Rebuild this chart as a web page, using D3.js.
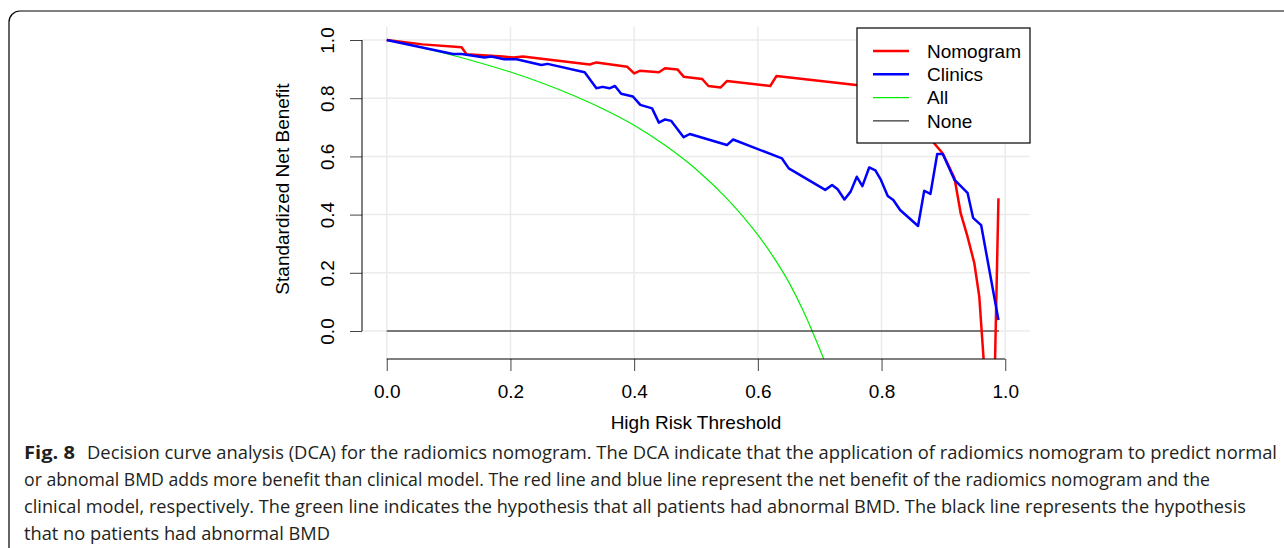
<!DOCTYPE html>
<html>
<head>
<meta charset="utf-8"/>
<title>Decision curve analysis</title>
<script src="https://d3js.org/d3.v7.min.js"></script>
<style>
	body { margin: 0; background: #fff; }
	svg { display: block; }
	.tick text { font-family: "Liberation Sans", Arial, sans-serif; font-size: 19px; fill: #000; }
	.lab { font-family: "Liberation Sans", Arial, sans-serif; font-size: 19px; fill: #000; }
	.cap { font-family: "Open Sans", "Noto Sans", sans-serif; font-size: 18px; fill: #231f20; }
</style>
</head>
<body>
<svg width="1284" height="548"></svg>
<script>
// ---- data ----
var nomogramT = [0, 0.058, 0.121, 0.129, 0.188, 0.205, 0.22, 0.328, 0.339, 0.389, 0.40, 0.409, 0.44, 0.45, 0.47, 0.48,
	0.51, 0.52, 0.54, 0.55, 0.62, 0.63, 0.759, 0.82, 0.86, 0.885, 0.899, 0.918, 0.928, 0.939, 0.95, 0.958, 0.97, 0.982, 0.989];
var nomogramV = [1.0, 0.985, 0.975, 0.951, 0.943, 0.94, 0.943, 0.916, 0.923, 0.908, 0.885, 0.894, 0.889, 0.903, 0.899, 0.874,
	0.866, 0.842, 0.837, 0.859, 0.842, 0.876, 0.845, 0.83, 0.79, 0.645, 0.61, 0.525, 0.404, 0.324, 0.233, 0.118, -0.25, -0.25, 0.456];

var clinicsT = [0, 0.107, 0.121, 0.158, 0.169, 0.19, 0.21, 0.25, 0.26, 0.32, 0.339, 0.349, 0.36, 0.369, 0.379, 0.398, 0.41,
	0.429, 0.44, 0.45, 0.46, 0.48, 0.49, 0.55, 0.56, 0.639, 0.65, 0.709, 0.72, 0.729, 0.74, 0.75, 0.76, 0.769, 0.78, 0.79,
	0.799, 0.81, 0.819, 0.83, 0.859, 0.869, 0.879, 0.89, 0.899, 0.918, 0.939, 0.948, 0.961, 0.989];
var clinicsV = [1.0, 0.952, 0.952, 0.94, 0.943, 0.934, 0.934, 0.914, 0.918, 0.889, 0.834, 0.839, 0.834, 0.842, 0.815, 0.806, 0.777,
	0.765, 0.716, 0.727, 0.722, 0.666, 0.677, 0.639, 0.658, 0.593, 0.559, 0.485, 0.502, 0.487, 0.452, 0.479, 0.53, 0.498, 0.562, 0.552,
	0.519, 0.464, 0.45, 0.416, 0.361, 0.482, 0.471, 0.608, 0.608, 0.519, 0.475, 0.389, 0.364, 0.038];

var allT = [0, 0.05, 0.10, 0.15, 0.20, 0.25, 0.30, 0.35, 0.40, 0.45, 0.50, 0.55, 0.60, 0.625, 0.65, 0.675, 0.70, 0.72];
var allV = [1.0, 0.977, 0.951, 0.922, 0.89, 0.853, 0.811, 0.763, 0.707, 0.638, 0.556, 0.455, 0.33, 0.255, 0.168, 0.062, -0.062, -0.17];

var noneT = [0, 0.99];
var noneV = [0, 0];

var xTicks = [0, 0.2, 0.4, 0.6, 0.8, 1.0];
var yTicks = [0, 0.2, 0.4, 0.6, 0.8, 1.0];
var legendNames = ["Nomogram", "Clinics", "All", "None"];
var legendColors = ["#ff0000", "#0000ff", "#00ee00", "#000000"];
var legendWidths = [2.5, 2.5, 1.2, 1];

var captionLines = [
	"Decision curve analysis (DCA) for the radiomics nomogram. The DCA indicate that the application of radiomics nomogram to predict normal",
	"or abnomal BMD adds more benefit than clinical model. The red line and blue line represent the net benefit of the radiomics nomogram and the",
	"clinical model, respectively. The green line indicates the hypothesis that all patients had abnormal BMD. The black line represents the hypothesis",
	"that no patients had abnormal BMD"
];

var svg = d3.select("svg");

// frame around figure
svg.append("rect").attr("x", 9).attr("y", 11).attr("width", 1400).attr("height", 700)
	.attr("rx", 11).attr("fill", "none").attr("stroke", "#000").attr("stroke-width", 1.2);

// plot region
var pL = 362, pR = 1030, pT = 27, pB = 359;
var x = d3.scaleLinear().domain([-0.04, 1.04]).range([pL, pR]);
var y = d3.scaleLinear().domain([-0.0962, 1.0447]).range([pB, pT]);

// grid
svg.append("g").selectAll("line").data(xTicks).enter().append("line")
	.attr("x1", function(d){ return x(d); }).attr("x2", function(d){ return x(d); })
	.attr("y1", pT).attr("y2", pB)
	.attr("stroke", "#ebebeb").attr("stroke-width", 1.5);
svg.append("g").selectAll("line").data(yTicks).enter().append("line")
	.attr("x1", pL).attr("x2", pR)
	.attr("y1", function(d){ return y(d); }).attr("y2", function(d){ return y(d); })
	.attr("stroke", "#ebebeb").attr("stroke-width", 1.5);

svg.append("clipPath").attr("id", "clip").append("rect")
	.attr("x", pL).attr("y", pT).attr("width", pR - pL).attr("height", pB - pT);

var plot = svg.append("g").attr("clip-path", "url(#clip)");

function zip(ts, vs) { return ts.map(function(t, i){ return [t, vs[i]]; }); }
var line = d3.line().x(function(d){ return x(d[0]); }).y(function(d){ return y(d[1]); });
var smooth = d3.line().x(function(d){ return x(d[0]); }).y(function(d){ return y(d[1]); }).curve(d3.curveMonotoneX);

plot.append("path").datum(zip(allT, allV)).attr("d", smooth)
	.attr("fill", "none").attr("stroke", legendColors[2]).attr("stroke-width", legendWidths[2]);
plot.append("path").datum(zip(noneT, noneV)).attr("d", line)
	.attr("fill", "none").attr("stroke", legendColors[3]).attr("stroke-width", legendWidths[3]);
plot.append("path").datum(zip(nomogramT, nomogramV)).attr("d", line)
	.attr("fill", "none").attr("stroke", legendColors[0]).attr("stroke-width", legendWidths[0]).attr("stroke-linejoin", "round");
plot.append("path").datum(zip(clinicsT, clinicsV)).attr("d", line)
	.attr("fill", "none").attr("stroke", legendColors[1]).attr("stroke-width", legendWidths[1]).attr("stroke-linejoin", "round");

// axes
var xAxis = svg.append("g").attr("transform", "translate(0," + pB + ")")
	.call(d3.axisBottom(x).tickValues(xTicks).tickSize(12).tickPadding(14).tickFormat(d3.format(".1f")));
xAxis.select(".domain").remove();
xAxis.selectAll(".tick line").attr("stroke", "#444");
xAxis.append("line").attr("x1", x(0)).attr("x2", x(1)).attr("stroke", "#000");

var yAxis = svg.append("g").attr("transform", "translate(" + pL + ",0)")
	.call(d3.axisLeft(y).tickValues(yTicks).tickSize(12).tickFormat(d3.format(".1f")));
yAxis.select(".domain").remove();
yAxis.selectAll(".tick line").attr("stroke", "#444");
yAxis.selectAll(".tick text").attr("transform", "rotate(-90)").attr("x", 0).attr("y", -35)
	.attr("dy", "0.35em").attr("text-anchor", "middle");
yAxis.append("line").attr("y1", y(0)).attr("y2", y(1)).attr("stroke", "#000");

svg.append("text").attr("class", "lab").attr("x", 696).attr("y", 429).attr("text-anchor", "middle")
	.text("High Risk Threshold");
svg.append("text").attr("class", "lab").attr("text-anchor", "middle")
	.attr("transform", "translate(289,189) rotate(-90)").text("Standardized Net Benefit");

// legend
var lg = svg.append("g");
lg.append("rect").attr("x", 857).attr("y", 28).attr("width", 173).attr("height", 115)
	.attr("fill", "#fff").attr("stroke", "#000").attr("stroke-width", 1.2);
legendNames.forEach(function(n, i) {
	var ly = 51 + i * 23.3;
	lg.append("line").attr("x1", 873).attr("x2", 909).attr("y1", ly).attr("y2", ly)
		.attr("stroke", legendColors[i]).attr("stroke-width", legendWidths[i]);
	lg.append("text").attr("class", "lab").attr("x", 927).attr("y", ly).attr("dy", "0.35em").text(n);
});

// caption
var capY = [459, 486, 513, 540];
var capEnd = [1277, 1210, 1246, 330];
svg.append("text").attr("class", "cap").attr("x", 24).attr("y", capY[0])
	.attr("font-weight", "bold").attr("textLength", 51).attr("lengthAdjust", "spacingAndGlyphs").text("Fig. 8");
captionLines.forEach(function(s, i) {
	var x0 = i === 0 ? 87 : 24;
	svg.append("text").attr("class", "cap").attr("x", x0).attr("y", capY[i])
		.attr("textLength", capEnd[i] - x0).attr("lengthAdjust", "spacingAndGlyphs").text(s);
});
</script>
</body>
</html>
